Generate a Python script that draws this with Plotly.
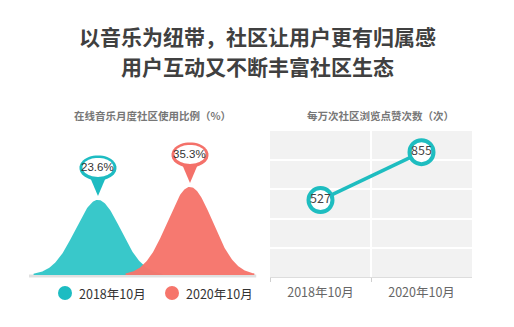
import numpy as np
import plotly.graph_objects as go

# ---------------- data ----------------
title_lines = ["以音乐为纽带，社区让用户更有归属感", "用户互动又不断丰富社区生态"]
left_title = "在线音乐月度社区使用比例（%）"
right_title = "每万次社区浏览点赞次数（次）"
periods = ["2018年10月", "2020年10月"]
usage_pct = [23.6, 35.3]
likes_per_10k = [527, 855]

# ---------------- style ----------------
W, H = 514, 327
FONT = "Noto Sans CJK SC"
BELL_COLORS = ["#33c6c8", "#f6756b"]
PIN_COLORS = ["#1ebcc2", "#f4716a"]
LEG_COLORS = ["#1dbcc2", "#f6756b"]
LINE_COLOR = "#1ebdc0"
BELL_BASE = 44      # visual pedestal added to bell heights
SIGMA = 0.245


def px(x):
    return x / W


def py(y):
    return 1 - y / H


fig = go.Figure()

# ---------- left: bell curves ----------
for i, (lab, v) in enumerate(zip(periods, usage_pct)):
    xs = np.linspace(i - 0.7, i + 0.7, 161)
    ys = (v + BELL_BASE) * np.exp(-0.5 * ((xs - i) / SIGMA) ** 2)
    xs = np.concatenate([[xs[0]], xs, [xs[-1]]])
    ys = np.concatenate([[0], ys, [0]])
    fig.add_trace(go.Scatter(
        x=xs, y=ys, mode="lines", fill="toself",
        fillcolor=BELL_COLORS[i], line=dict(width=0),
        opacity=0.97, hoverinfo="skip", showlegend=False,
        xaxis="x", yaxis="y"))

shapes = []
annotations = []

# baseline shadow
shapes.append(dict(type="line", xref="x", yref="y", x0=-0.75, x1=1.72, y0=-0.8, y1=-0.8,
                   line=dict(color="rgba(0,0,0,0.12)", width=3), layer="below"))


def ellipse_path(cx, cy, rx, ry, n=48):
    t = np.linspace(0, 2 * np.pi, n, endpoint=False)
    pts = [(cx + rx * np.cos(a), cy + ry * np.sin(a)) for a in t]
    return "M" + " L".join(f"{x:.2f},{y:.2f}" for x, y in pts) + " Z"


PIN_CY, PIN_RX, PIN_RY, PIN_TIP = 32, 18.5, 12.5, 4
for i, v in enumerate(usage_pct):
    common = dict(xref="x", yref="y", xsizemode="pixel", ysizemode="pixel",
                  xanchor=i, yanchor=v + BELL_BASE, type="path", line=dict(width=0))
    shapes.append(dict(common, path=ellipse_path(0, PIN_CY, PIN_RX, PIN_RY),
                       fillcolor=PIN_COLORS[i]))
    shapes.append(dict(common, path=f"M0,{PIN_TIP} L-8.5,{PIN_CY-8} L8.5,{PIN_CY-8} Z",
                       fillcolor=PIN_COLORS[i]))
    shapes.append(dict(common, path=ellipse_path(0, PIN_CY + 0.5, PIN_RX - 3, PIN_RY - 3),
                       fillcolor="white"))
    annotations.append(dict(x=i, y=v + BELL_BASE, xref="x", yref="y", yshift=PIN_CY + 0.5,
                            text=f"{v}%", showarrow=False,
                            font=dict(family="Liberation Sans", size=11.5, color="#333333")))

# legend (manual)
for i, lab in enumerate(periods):
    cx = 65 + 107 * i
    shapes.append(dict(type="circle", xref="paper", yref="paper", xsizemode="pixel",
                       ysizemode="pixel", xanchor=px(cx), yanchor=py(293),
                       x0=-7, x1=7, y0=-7, y1=7, fillcolor=LEG_COLORS[i], line=dict(width=0)))
    annotations.append(dict(x=px(cx + 12), y=py(293), xref="paper", yref="paper",
                            xanchor="left", yanchor="middle", text=lab, showarrow=False,
                            font=dict(family=FONT, size=12.5, color="#333333")))

# ---------- right: line chart ----------
shapes.append(dict(type="rect", xref="x2 domain", yref="y2 domain", x0=0, x1=1, y0=0, y1=1,
                   fillcolor="#f2f2f2", line=dict(width=0), layer="below"))
fig.add_trace(go.Scatter(
    x=periods, y=likes_per_10k, mode="lines+markers+text",
    text=[str(v) for v in likes_per_10k], textposition="middle center",
    textfont=dict(family=FONT, size=12.5, color="#444444"),
    line=dict(color=LINE_COLOR, width=3.5),
    marker=dict(size=24, color="white", line=dict(color=LINE_COLOR, width=4)),
    cliponaxis=False, showlegend=False, hoverinfo="skip",
    xaxis="x2", yaxis="y2"))

# ---------- titles ----------
for k, line in enumerate(title_lines):
    annotations.append(dict(x=0.5, y=py(36 + 30 * k), xref="paper", yref="paper",
                            xanchor="center", yanchor="middle", text=f"<b>{line}</b>",
                            showarrow=False,
                            font=dict(family=FONT, size=21, color="#404040")))
annotations.append(dict(x=px(152), y=py(115), xref="paper", yref="paper", xanchor="center",
                        yanchor="middle", text=f"<b>{left_title}</b>", showarrow=False,
                        font=dict(family=FONT, size=10.5, color="#777777")))
annotations.append(dict(x=px(380), y=py(115), xref="paper", yref="paper", xanchor="center",
                        yanchor="middle", text=f"<b>{right_title}</b>", showarrow=False,
                        font=dict(family=FONT, size=10.5, color="#777777")))

fig.update_layout(
    width=W, height=H, margin=dict(l=0, r=0, t=0, b=0),
    paper_bgcolor="white", plot_bgcolor="rgba(0,0,0,0)",
    showlegend=False,
    xaxis=dict(domain=[0, px(260)], range=[-1.065, 1.761], visible=False, fixedrange=True),
    yaxis=dict(domain=[0, 1], range=[-46.8, 247.5], visible=False, fixedrange=True),
    xaxis2=dict(domain=[px(270), px(472)], anchor="y2", type="category",
                range=[-0.5, 1.5], tickson="boundaries", showgrid=True,
                gridcolor="white", gridwidth=2, ticks="outside", ticklen=4,
                tickcolor="#d0d0d0", showline=True, linecolor="#dddddd", linewidth=1,
                tickfont=dict(family=FONT, size=12.5, color="#666666"),
                ticklabelstandoff=4, zeroline=False),
    yaxis2=dict(domain=[py(277), py(131)], anchor="x2", range=[0, 1000],
                tickvals=[200, 400, 600, 800], showticklabels=False, showgrid=True,
                gridcolor="white", gridwidth=2, zeroline=False, showline=False),
    shapes=shapes, annotations=annotations,
)

fig.write_html("out.html")
